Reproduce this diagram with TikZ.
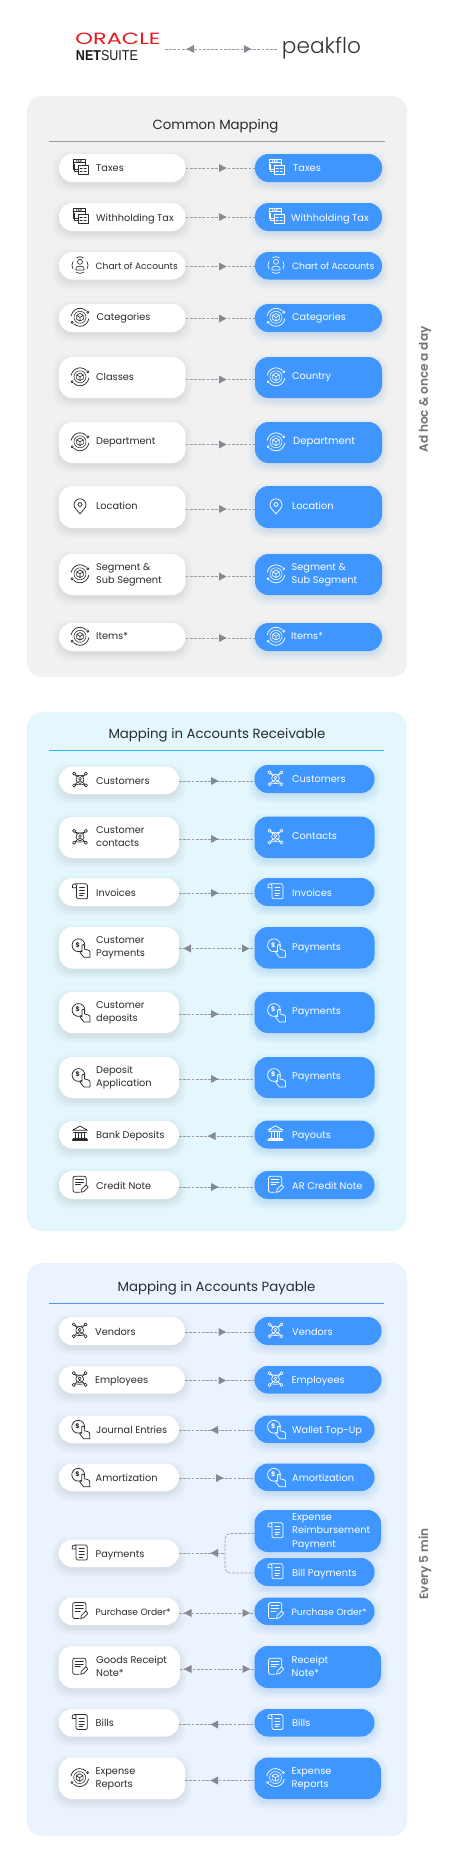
\documentclass[tikz,border=0pt]{standalone}
\usepackage{fontspec}
\setmainfont{Poppins}
\newfontfamily\plight{Poppins Light}
\newfontfamily\psemi{Poppins SemiBold}
\newfontfamily\lib{Liberation Sans}
\definecolor{panelA}{HTML}{F1F1F1}
\definecolor{panelB}{HTML}{E3F7FC}
\definecolor{panelC}{HTML}{EAF3FE}
\definecolor{blu}{HTML}{3F96FF}
\definecolor{lin}{HTML}{9A9CA6}
\definecolor{arr}{HTML}{868892}
\definecolor{inkL}{HTML}{2B2B2F}
\colorlet{icL}{inkL}\colorlet{bgL}{white}\colorlet{shL}{black!45}
\colorlet{icR}{white}\colorlet{bgR}{blu}\colorlet{shR}{blu!90!black}
\tikzset{
  panel/.style={rounded corners=15pt,inner sep=0pt,outer sep=0pt},
  boxL/.style={fill=white,rounded corners=13.5pt,inner sep=0pt,outer sep=0pt},
  boxR/.style={fill=blu,rounded corners=13.5pt,inner sep=0pt,outer sep=0pt},
  txtL/.style={anchor=west,align=left,text=inkL,inner sep=0pt,font=\fontsize{9.75}{13.2}\selectfont},
  txtR/.style={anchor=west,align=left,text=white,inner sep=0pt,font=\fontsize{9.75}{13.2}\selectfont},
  ttl/.style={inner sep=0pt,text=inkL,font=\fontsize{13.3}{16}\selectfont},
  rulep/.style={line width=.8pt},
  conn/.style={draw=lin,line width=.65pt,dash pattern=on 2.8pt off 1.4pt},
  side/.style={inner sep=0pt,rotate=90,text=black!55,font=\psemi\fontsize{12.1}{14}\selectfont},
  ic/.style={draw=icc,line width=.65pt,line cap=round,line join=round},
}
\newcommand{\arR}[2]{\fill[arr] (#1,#2-4) -- (#1+7.5,#2) -- (#1,#2+4) -- cycle;}
\newcommand{\arL}[2]{\fill[arr] (#1+7.5,#2-4) -- (#1,#2) -- (#1+7.5,#2+4) -- cycle;}
% icons, drawn around the origin
\newcommand{\icoTax}{%
  \draw[ic] (-7,-5) -- (-7,2.5) -- (-2,2.5) (-7,-5) -- (-7,-7.5) -- (5,-7.5) -- (5,-2) (-7,-4.5) -- (5,-4.5);
  \draw[ic] (-5.5,-3) -- (-5.5,4) -- (-2,4);
  \node[inner sep=0pt,text=icc,font=\bfseries\fontsize{3}{3}\selectfont] (taxw) at (-1,-6) {TAX};
  \draw[ic,fill=icb] (-2,-2) rectangle (8,7.5);
  \draw[ic] (0,1) -- (2.2,1) (4,1) -- (6.2,1) (0,4) -- (2.2,4) (4,4) -- (6.2,4);
}
\newcommand{\icoChart}{%
  \draw[ic] (0,-3.2) circle (2.5);
  \draw[ic] (-4,5) -- (-4,3) .. controls (-4,0.5) and (4,0.5) .. (4,3) -- (4,5) -- cycle;
  \draw[ic] (-3.5,-7.2) .. controls (-1.5,-8.8) and (1.5,-8.8) .. (3.5,-7.2);
  \draw[ic] (-3.5,7.2) .. controls (-1.5,8.8) and (1.5,8.8) .. (3.5,7.2);
  \draw[ic] (-7,-3.5) .. controls (-8.4,-1) and (-8.4,1.5) .. (-7,4);
  \draw[ic] (7,-3.5) .. controls (8.4,-1) and (8.4,1.5) .. (7,4);
}
\newcommand{\icoCube}{%
  \draw[ic,line width=.75pt] (-8.8,-1.5) .. controls (-8,-6) and (-4,-9) .. (0,-9) .. controls (2.5,-9) and (4.5,-8) .. (6.2,-6.5);
  \draw[ic,line width=.75pt] (8.8,1.5) .. controls (8,6) and (4,9) .. (0,9) .. controls (-2.5,9) and (-4.5,8) .. (-6.2,6.5);
  \draw[ic,fill=icb] (-7.8,5) circle (1.1) (7.8,-5) circle (1.1);
  \draw[ic,line width=.55pt] (0,0) circle (6);
  \draw[ic] (0,-3.8) -- (3.4,-1.9) -- (3.4,1.9) -- (0,3.8) -- (-3.4,1.9) -- (-3.4,-1.9) -- cycle
            (-3.4,-1.9) -- (0,0) -- (3.4,-1.9) (0,0) -- (0,3.8);
}
\newcommand{\icoPin}{%
  \draw[ic,line width=.75pt] (0,7.5) .. controls (-3,4) and (-6,1.5) .. (-6,-1.5)
     .. controls (-6,-5) and (-3,-7.5) .. (0,-7.5) .. controls (3,-7.5) and (6,-5) .. (6,-1.5)
     .. controls (6,1.5) and (3,4) .. (0,7.5) -- cycle;
  \draw[ic,line width=.75pt] (0,-1.8) circle (2);
}
\newcommand{\icoNet}{%
  \draw[ic] (-5.9,-5.9) -- (5.9,5.9) (5.9,-5.9) -- (-5.9,5.9);
  \draw[ic] (-4.5,-4.6) .. controls (-2,-3.6) and (2,-3.6) .. (4.5,-4.6);
  \draw[ic] (-4.5,4.6) .. controls (-2,5.4) and (2,5.4) .. (4.5,4.6);
  \draw[ic,fill=icb] (0,0) circle (3.9);
  \draw[ic] (0,-.7) circle (1.4) (-2.1,2.6) .. controls (-1.5,.9) and (1.5,.9) .. (2.1,2.6);
  \foreach \p in {(-5.9,-5.9),(5.9,-5.9),(-5.9,5.9),(5.9,5.9)}{\draw[ic,fill=icb] \p circle (1.6);}
}
\newcommand{\icoScroll}{%
  \draw[ic,line width=.75pt] (-4.5,-7.5) -- (6,-7.5) .. controls (7,-7.5) and (7.5,-7) .. (7.5,-6) -- (7.5,6.5)
     .. controls (7.5,7.3) and (7,7.5) .. (6,7.5) -- (-2,7.5) .. controls (-3,7.5) and (-3.6,7) .. (-3.6,6) -- (-3.6,-5.5)
     .. controls (-3.6,-7) and (-4.2,-7.5) .. (-5.4,-7.5) .. controls (-6.6,-7.5) and (-7.5,-6.8) .. (-7.5,-5.5) -- (-7.5,-3.5) -- (-3.6,-3.5);
  \draw[ic] (-.5,-3.8) -- (4.5,-3.8) (-.5,-1) -- (4.5,-1) (-.5,1.8) -- (4.5,1.8) (-.5,4.5) -- (3,4.5);
}
\newcommand{\icoDollar}{%
  \draw[ic,line width=.75pt] (-1.5,-1.8) circle (6.4);
  \node[inner sep=0pt,text=icc,font=\bfseries\fontsize{6.5}{6.5}\selectfont] (dlr) at (-2.2,-2.2) {\$};
  \draw[ic,fill=icb,line width=.75pt] (2,-1.5) .. controls (2,-3.2) and (4.6,-3.2) .. (4.6,-1.5) -- (4.6,2.2) -- (8,3)
     .. controls (9.4,3.4) and (10,4.2) .. (10,5.4) -- (10,10.3) -- (4,10.3) -- (.2,5.6)
     .. controls (-.5,4.2) and (1,3.6) .. (2,4.8) -- cycle;
}
\newcommand{\icoBank}{%
  \draw[ic,line width=.8pt] (0,-8) -- (7.5,-3.8) -- (-7.5,-3.8) -- cycle;
  \draw[ic,line width=.8pt] (-6.5,-2) -- (6.5,-2);
  \draw[ic,line width=1pt] (-4.4,-1.5) -- (-4.4,3.8) (-1.5,-1.5) -- (-1.5,3.8) (1.5,-1.5) -- (1.5,3.8) (4.4,-1.5) -- (4.4,3.8);
  \draw[ic,line width=1.4pt] (-7.4,6) -- (7.4,6);
  \draw[ic] (-6.5,4.3) -- (6.5,4.3);
}
\newcommand{\icoNote}{%
  \draw[ic,line width=.75pt] (6.2,1.2) -- (6.2,-6) .. controls (6.2,-7.4) and (5.4,-8) .. (4.2,-8) -- (-4.8,-8)
     .. controls (-6,-8) and (-7,-7.4) .. (-7,-6) -- (-7,6) .. controls (-7,7.4) and (-6,8) .. (-4.8,8) -- (-.5,8);
  \draw[ic] (-4.5,-4.8) -- (3.5,-4.8) (-4.5,-2.2) -- (3.5,-2.2) (-4.5,.4) -- (.5,.4);
  \draw[ic,fill=icb,line width=.7pt] (1,8) -- (1.6,5) -- (6,.6) -- (8.2,2.8) -- (3.8,7.2) -- cycle;
}
\gdef\tdy{0}
\newcommand{\up}[1]{\gdef\tdy{#1}}
% box: name, L/R, x0, x1, y0, y1, icon, text x, text
\newcommand{\bx}[9]{%
  \colorlet{icc}{ic#2}\colorlet{icb}{bg#2}
  \pgfmathsetmacro{\cxx}{(#3+#4)/2}\pgfmathsetmacro{\cyy}{(#5+#6)/2}
  \pgfmathsetmacro{\tyy}{\cyy+\tdy+((#6-#5)>35?0.3:1.7)}
  \foreach \e/\o in {8/.014,7/.016,6/.018,5/.02,4/.022,3/.024,2/.026,1/.028}{
    \fill[sh#2,opacity=\o,rounded corners=15pt] (#3-\e+1,#5-\e+5) rectangle (#4+\e-1,#6+\e+2);}
  \node[box#2,minimum width={#4-#3},minimum height={#6-#5}] (#1) at (\cxx,\cyy) {};
  \begin{scope}[shift={(#3+21,\cyy-.7)}]#7\end{scope}
  \node[txt#2] (#1t) at (#8,\tyy) {\vphantom{A}#9\vphantom{g}};
  \gdef\tdy{0}%
}
\newcommand{\cn}[3]{\draw[conn] (#1.east |- 0,#3) -- (#2.west |- 0,#3);}
\newcommand{\fs}[1]{\fontsize{#1}{13.2}\selectfont}
\begin{document}
\begin{tikzpicture}[x=1pt,y=-1pt]
\useasboundingbox (0,0) rectangle (450,1876);
\fill[white] (0,0) rectangle (450,1876);
% logos
\node[inner sep=0pt,anchor=center,text={rgb,255:red,232;green,24;blue,30}] (oracle) at (118,39.3) {\resizebox{85pt}{11.5pt}{ORACLE}};
\node[inner sep=0pt,anchor=center,text=black!90] (netsuite) at (107,55.5) {\resizebox{62pt}{10pt}{\lib\textbf{NET}SUITE}};
\node[inner sep=0pt,anchor=center,text=black!80] (peakflo) at (321.5,48.5) {\resizebox{79pt}{!}{\plight peakflo}};
\coordinate (la) at (165,49);\coordinate (lb) at (278,49);
\draw[conn] (la) -- (lb);
\arL{186.5}{49}\arR{243.8}{49}
% panels
\node[panel,fill=panelA,minimum width=380,minimum height=581] (p1) at (217,386.5) {};
\node[panel,fill=panelB,minimum width=379.5,minimum height=519] (p2) at (216.75,971.5) {};
\node[panel,fill=panelC,minimum width=380,minimum height=573] (p3) at (217,1549.5) {};
\node[ttl] (t1) at (215.5,126) {Common Mapping};
\node[ttl] (t2) at (217,735) {Mapping in Accounts Receivable};
\node[ttl] (t3) at (216.5,1288) {Mapping in Accounts Payable};
\coordinate (r1a) at (49,141);\coordinate (r1b) at (385,141);
\coordinate (r2a) at (49,750.5);\coordinate (r2b) at (384,750.5);
\coordinate (r3a) at (49,1303.3);\coordinate (r3b) at (384,1303.3);
\draw[rulep,draw=lin] (r1a) -- (r1b);
\draw[rulep,draw={rgb,255:red,32;green,190;blue,232}] (r2a) -- (r2b);
\draw[rulep,draw={rgb,255:red,76;green,155;blue,240}] (r3a) -- (r3b);
\node[side] (s1) at (425,389.5) {Ad hoc \& once a day};
\node[side] (s2) at (425,1564) {Every 5 min};
% Common mapping
\bx{a1}{L}{59}{185.5}{154}{182}{\icoTax}{96}{Taxes}
\bx{b1}{R}{255}{382}{154}{182}{\icoTax}{293}{Taxes}
\bx{a2}{L}{59}{185.5}{203}{231}{\icoTax}{96}{Withholding Tax}
\bx{b2}{R}{255}{382}{203}{231}{\icoTax}{291}{Withholding Tax}
\bx{a3}{L}{59}{185.5}{252}{279.5}{\icoChart}{95.5}{\fs{9.1}Chart of Accounts}
\bx{b3}{R}{255}{382}{252}{279.5}{\icoChart}{292}{\fs{9.1}Chart of Accounts}
\up{-1.2}\bx{a4}{L}{59}{185.5}{304}{332}{\icoCube}{96.5}{Categories}
\up{-1.2}\bx{b4}{R}{255}{382}{304}{332}{\icoCube}{292}{Categories}
\bx{a5}{L}{59}{185.5}{357}{398}{\icoCube}{96}{Classes}
\bx{b5}{R}{255}{382}{357}{398}{\icoCube}{292}{Country}
\bx{a6}{L}{59}{185.5}{422}{463}{\icoCube}{96}{Department}
\bx{b6}{R}{255}{382}{422}{463}{\icoCube}{293}{\fs{10.2}Department}
\bx{a7}{L}{59}{185.5}{486}{528}{\icoPin}{96}{Location}
\bx{b7}{R}{255}{382}{486}{528}{\icoPin}{292}{Location}
\bx{a8}{L}{59}{185.5}{554}{595}{\icoCube}{96}{Segment \&\\Sub Segment}
\bx{b8}{R}{255}{382}{554}{595}{\icoCube}{291.5}{Segment \&\\Sub Segment}
\up{-1.2}\bx{a9}{L}{59}{185.5}{623}{651}{\icoCube}{96}{Items*}
\up{-1.2}\bx{b9}{R}{255}{382}{623}{651}{\icoCube}{291}{Items*}
\cn{a1}{b1}{168}\arR{219}{168}
\cn{a2}{b2}{217}\arR{219}{217}
\cn{a3}{b3}{266.5}\arR{219}{266.5}
\cn{a4}{b4}{318.5}\arR{219}{318.5}
\cn{a5}{b5}{379.5}\arR{219}{379.5}
\cn{a6}{b6}{444.5}\arR{219}{444.5}
\cn{a7}{b7}{509}\arR{219}{509}
\cn{a8}{b8}{576.5}\arR{219}{576.5}
\cn{a9}{b9}{638}\arR{219}{638}
% Receivable
\bx{c1}{L}{59}{179}{766.5}{794}{\icoNet}{96}{Customers}
\bx{d1}{R}{254.5}{374.5}{765}{793}{\icoNet}{292}{Customers}
\bx{c2}{L}{59}{179}{817}{858}{\icoNet}{96}{Customer\\contacts}
\bx{d2}{R}{254.5}{374.5}{816.5}{858}{\icoNet}{292}{Contacts}
\bx{c3}{L}{59}{179}{878}{906}{\icoScroll}{96}{Invoices}
\bx{d3}{R}{254.5}{374.5}{878}{906}{\icoScroll}{292}{Invoices}
\bx{c4}{L}{59}{179}{927}{968.5}{\icoDollar}{96}{Customer\\Payments}
\bx{d4}{R}{254.5}{374.5}{927}{968.5}{\icoDollar}{292}{Payments}
\bx{c5}{L}{59}{179}{992}{1033}{\icoDollar}{96}{Customer\\deposits}
\bx{d5}{R}{254.5}{374.5}{992}{1033}{\icoDollar}{292}{Payments}
\bx{c6}{L}{59}{179}{1057}{1098}{\icoDollar}{96}{Deposit\\Application}
\bx{d6}{R}{254.5}{374.5}{1057}{1098}{\icoDollar}{292}{Payments}
\bx{c7}{L}{59}{179}{1121}{1148.5}{\icoBank}{96}{Bank Deposits}
\bx{d7}{R}{254.5}{374.5}{1120.5}{1148.5}{\icoBank}{292}{Payouts}
\bx{c8}{L}{59}{179}{1171}{1199}{\icoNote}{96}{Credit Note}
\bx{d8}{R}{254.5}{374.5}{1171}{1199}{\icoNote}{292}{AR Credit Note}
\cn{c1}{d1}{781}\arR{211}{781}
\cn{c2}{d2}{839}\arR{211}{839}
\cn{c3}{d3}{893}\arR{211}{893}
\cn{c4}{d4}{948.5}\arL{183.5}{948.5}\arR{242}{948.5}
\cn{c5}{d5}{1014}\arR{211}{1014}
\cn{c6}{d6}{1079}\arR{211}{1079}
\cn{c7}{d7}{1136}\arL{208}{1136}
\cn{c8}{d8}{1187}\arR{211}{1187}
% Payable
\bx{e1}{L}{58.7}{185}{1317}{1345}{\icoNet}{95}{Vendors}
\bx{f1}{R}{254.5}{381.5}{1317}{1345}{\icoNet}{292}{Vendors}
\bx{e2}{L}{58.7}{185}{1366}{1393.5}{\icoNet}{95}{Employees}
\bx{f2}{R}{254.5}{381.5}{1366}{1393.5}{\icoNet}{291.5}{Employees}
\bx{e3}{L}{58.7}{179}{1415.5}{1443}{\icoDollar}{96}{Journal Entries}
\bx{f3}{R}{254.5}{374.5}{1415.5}{1443}{\icoDollar}{292}{Wallet Top-Up}
\bx{e4}{L}{58.7}{179}{1463.5}{1491}{\icoDollar}{95.5}{Amortization}
\bx{f4}{R}{254.5}{374.5}{1463.5}{1491}{\icoDollar}{292}{Amortization}
\bx{e5}{L}{58.7}{179}{1539.5}{1567}{\icoScroll}{95.5}{Payments}
\up{.4}\bx{f5}{R}{254.5}{381}{1510}{1552}{\icoScroll}{292}{\fontsize{9.75}{10.7}\selectfont Expense\\Reimbursement\\Payment}
\bx{f6}{R}{254.5}{374.5}{1558}{1586}{\icoScroll}{292}{Bill Payments}
\bx{e7}{L}{58.7}{179}{1597.5}{1625}{\icoNote}{95.5}{\fs{9.1}Purchase Order*}
\bx{f7}{R}{254.5}{374.5}{1597.5}{1625}{\icoNote}{291.5}{\fs{9.1}Purchase Order*}
\bx{e8}{L}{58.7}{180}{1646}{1688}{\icoNote}{96}{Goods Receipt\\Note*}
\bx{f8}{R}{254.5}{381}{1646}{1688}{\icoNote}{291.5}{Receipt\\Note*}
\bx{e9}{L}{58.7}{179}{1709}{1736.5}{\icoScroll}{95.5}{Bills}
\bx{f9}{R}{254.5}{374.5}{1709}{1736.5}{\icoScroll}{292}{Bills}
\bx{e0}{L}{58.7}{185}{1757.5}{1799}{\icoCube}{95.5}{Expense\\Reports}
\bx{f0}{R}{254.5}{381}{1757.5}{1799}{\icoCube}{291.5}{Expense\\Reports}
\cn{e1}{f1}{1332}\arR{218.5}{1332}
\cn{e2}{f2}{1380.5}\arR{218.5}{1380.5}
\cn{e3}{f3}{1430}\arL{210.5}{1430}
\cn{e4}{f4}{1478}\arR{216}{1478}
\coordinate (jn) at (225,1553);
\draw[conn] (e5.east |- jn) -- (jn);
\draw[conn,rounded corners=5pt] (f5.west |- 0,1533.5) -- (225,1533.5) -- (225,1573) -- (f6.west |- 0,1573);
\arL{210.5}{1553}
\cn{e7}{f7}{1613}\arL{184}{1613}\arR{242.5}{1613}
\cn{e8}{f8}{1669}\arL{184}{1669}\arR{242.5}{1669}
\cn{e9}{f9}{1724.5}\arL{210.5}{1724.5}
\cn{e0}{f0}{1780.5}\arL{210.5}{1780.5}
\end{tikzpicture}
\end{document}
